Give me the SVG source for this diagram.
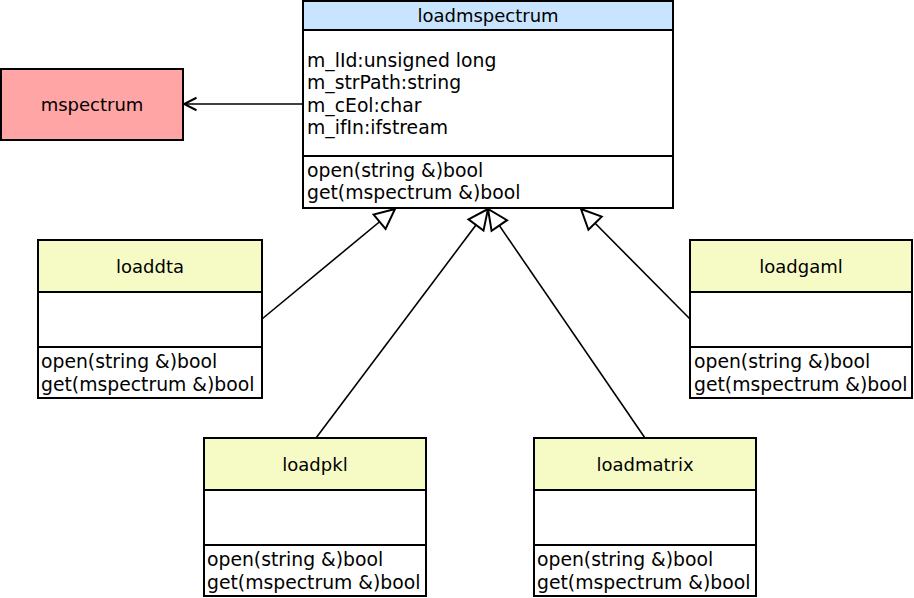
<svg xmlns="http://www.w3.org/2000/svg" width="914" height="598" viewBox="0 0 914 598">
<style>
.box{stroke:#000;stroke-width:2}
.div{stroke:#000;stroke-width:2}
.title{font-family:"DejaVu Sans",sans-serif;font-size:18px;text-anchor:middle;fill:#000}
.mem{font-family:"DejaVu Sans",sans-serif;font-size:18.8px;fill:#000}
.conn{stroke:#000;stroke-width:1.6;fill:none}
</style>
<defs>
<marker id="tri" markerUnits="userSpaceOnUse" markerWidth="30" markerHeight="30" viewBox="-20 -12 24 24" refX="0" refY="0" orient="auto">
<path d="M0,0 L-16,-7.5 L-16,7.5 Z" fill="#fff" stroke="#000" stroke-width="1.6"/>
</marker>
<marker id="open" markerUnits="userSpaceOnUse" markerWidth="20" markerHeight="20" viewBox="-14 -8 16 16" refX="0" refY="0" orient="auto">
<path d="M-10,-5 L0,0 L-10,5" fill="none" stroke="#000" stroke-width="1.6"/>
</marker>
</defs>
<rect width="914" height="598" fill="#fff"/>
<g id="connectors">
<line class="conn" x1="303" y1="104" x2="184" y2="104" marker-end="url(#open)"/>
<line class="conn" x1="262" y1="319" x2="395" y2="209" marker-end="url(#tri)"/>
<line class="conn" x1="316" y1="438" x2="488" y2="209" marker-end="url(#tri)"/>
<line class="conn" x1="645" y1="438" x2="488" y2="209" marker-end="url(#tri)"/>
<line class="conn" x1="690" y1="319" x2="581" y2="209" marker-end="url(#tri)"/>
</g>
<g id="loadmspectrum">
<rect class="box" x="303" y="1" width="370" height="207" fill="#fff"/>
<rect x="304" y="2" width="368" height="28" fill="#c8e4ff"/>
<line class="div" x1="303" y1="30" x2="673" y2="30"/>
<line class="div" x1="303" y1="156" x2="673" y2="156"/>
<text class="title" x="488" y="22">loadmspectrum</text>
<text class="mem" x="307" y="67">m_lId:unsigned long</text>
<text class="mem" x="307" y="89">m_strPath:string</text>
<text class="mem" x="307" y="111.5">m_cEol:char</text>
<text class="mem" x="307" y="134">m_ifIn:ifstream</text>
<text class="mem" x="307" y="177">open(string &amp;)bool</text>
<text class="mem" x="307" y="199">get(mspectrum &amp;)bool</text>
</g>
<g id="mspectrum">
<rect class="box" x="1" y="69" width="182" height="71" fill="#ffa5a5"/>
<text class="title" x="92" y="111">mspectrum</text>
</g>
<g id="loaddta">
<rect class="box" x="38" y="240" width="224" height="158" fill="#fff"/>
<rect x="39" y="241" width="222" height="51" fill="#f6fbc5"/>
<line class="div" x1="38" y1="292" x2="262" y2="292"/>
<line class="div" x1="38" y1="347" x2="262" y2="347"/>
<text class="title" x="150" y="273">loaddta</text>
<text class="mem" x="41" y="368">open(string &amp;)bool</text>
<text class="mem" x="41" y="390.5">get(mspectrum &amp;)bool</text>
</g>
<g id="loadgaml">
<rect class="box" x="690" y="240" width="222" height="158" fill="#fff"/>
<rect x="691" y="241" width="220" height="51" fill="#f6fbc5"/>
<line class="div" x1="690" y1="292" x2="912" y2="292"/>
<line class="div" x1="690" y1="347" x2="912" y2="347"/>
<text class="title" x="801" y="273">loadgaml</text>
<text class="mem" x="694" y="368">open(string &amp;)bool</text>
<text class="mem" x="694" y="390.5">get(mspectrum &amp;)bool</text>
</g>
<g id="loadpkl">
<rect class="box" x="204" y="438" width="222" height="158" fill="#fff"/>
<rect x="205" y="439" width="220" height="51" fill="#f6fbc5"/>
<line class="div" x1="204" y1="490" x2="426" y2="490"/>
<line class="div" x1="204" y1="545" x2="426" y2="545"/>
<text class="title" x="315" y="471">loadpkl</text>
<text class="mem" x="207" y="566">open(string &amp;)bool</text>
<text class="mem" x="207" y="588.5">get(mspectrum &amp;)bool</text>
</g>
<g id="loadmatrix">
<rect class="box" x="534" y="438" width="222" height="158" fill="#fff"/>
<rect x="535" y="439" width="220" height="51" fill="#f6fbc5"/>
<line class="div" x1="534" y1="490" x2="756" y2="490"/>
<line class="div" x1="534" y1="545" x2="756" y2="545"/>
<text class="title" x="645" y="471">loadmatrix</text>
<text class="mem" x="537" y="566">open(string &amp;)bool</text>
<text class="mem" x="537" y="588.5">get(mspectrum &amp;)bool</text>
</g>
</svg>
